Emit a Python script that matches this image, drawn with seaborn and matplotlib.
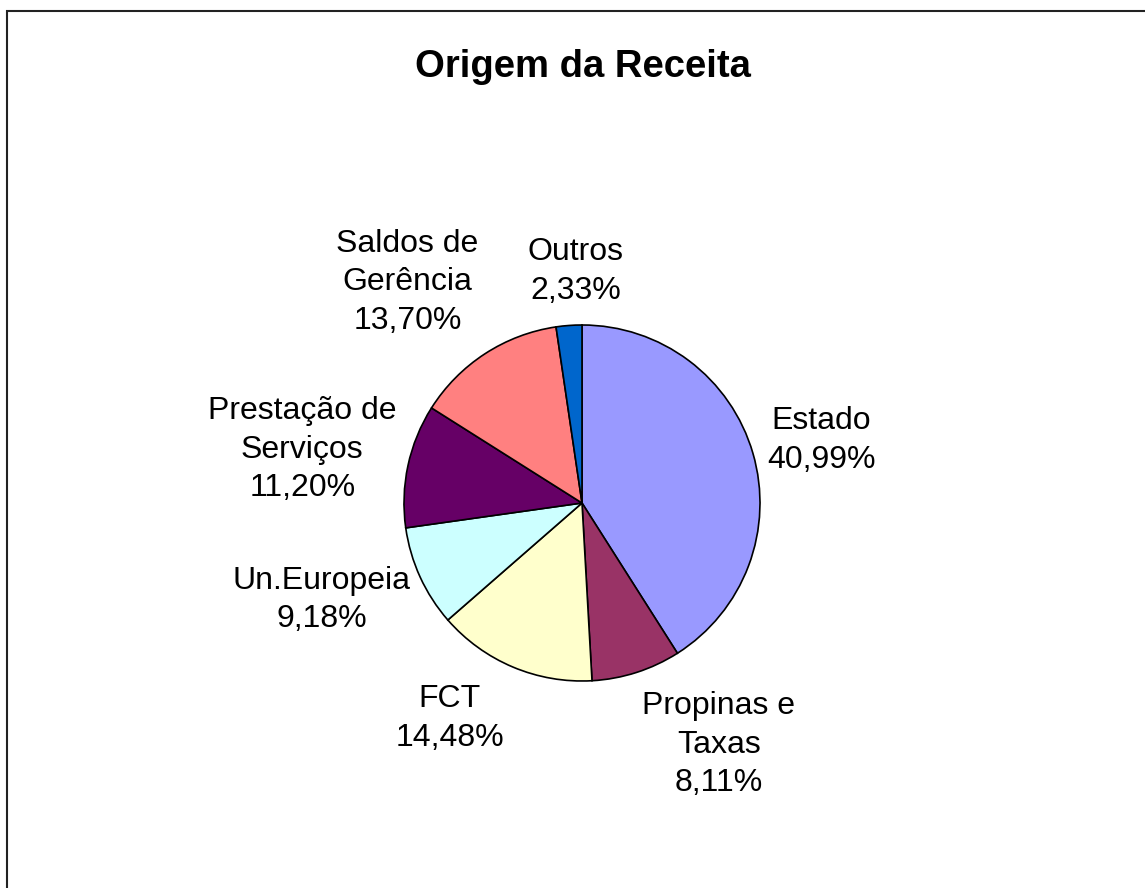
import numpy as np
import seaborn as sns
import matplotlib.pyplot as plt
from matplotlib.patches import Rectangle

sns.set_style('white')
plt.rcParams['font.family'] = ['Liberation Sans', 'DejaVu Sans']
plt.rcParams['text.color'] = 'black'

categories = ['Estado', 'Propinas e\nTaxas', 'FCT', 'Un.Europeia',
              'Prestação de\nServiços', 'Saldos de\nGerência', 'Outros']
shares = [40.99, 8.11, 14.48, 9.18, 11.20, 13.70, 2.33]
colors = sns.color_palette(['#9999FF', '#993366', '#FFFFCC', '#CCFFFF',
                            '#660066', '#FF8080', '#0066CC'])

# label placement: radial distance (in radii) and angle nudge (deg)
label_dist = [1.39, 1.56, 1.42, 1.56, 1.60, 1.58, 1.30]
label_nudge = [-1.5, 11.7, -8.7, -4.1, 1.3, 5.3, -2.7]

W, H = 1145, 888
cx, cy, R = 582, 503, 178

fig = plt.figure(figsize=(W / 100, H / 100), dpi=100)
ax = fig.add_axes([0, 0, 1, 1])

wedges, _ = ax.pie(shares, colors=colors, startangle=90, counterclock=False,
                   radius=1, center=(0, 0), frame=True,
                   wedgeprops=dict(edgecolor='black', linewidth=1.2))
ax.set_xlim(-cx / R, (W - cx) / R)
ax.set_ylim(-(H - cy) / R, cy / R)
ax.set_aspect('auto')
ax.axis('off')

for w, name, val, d, nudge in zip(wedges, categories, shares, label_dist, label_nudge):
    ang = np.deg2rad((w.theta1 + w.theta2) / 2 + nudge)
    pct = f"{val:.2f}%".replace('.', ',')
    ax.text(d * np.cos(ang), d * np.sin(ang), f"{name}\n{pct}", ha='center',
            va='center', multialignment='center', fontsize=23, linespacing=1.38)

fig.text(583 / W, 1 - 67 / H, 'Origem da Receita', ha='center', va='center',
         fontsize=27.5, fontweight='bold')

fig.patches.append(Rectangle((7 / W, -0.05), 1.1, 1 - 11 / H + 0.05,
                             transform=fig.transFigure, fill=False,
                             edgecolor='#222222', linewidth=1.5))

fig.savefig('out.png', dpi=100)
